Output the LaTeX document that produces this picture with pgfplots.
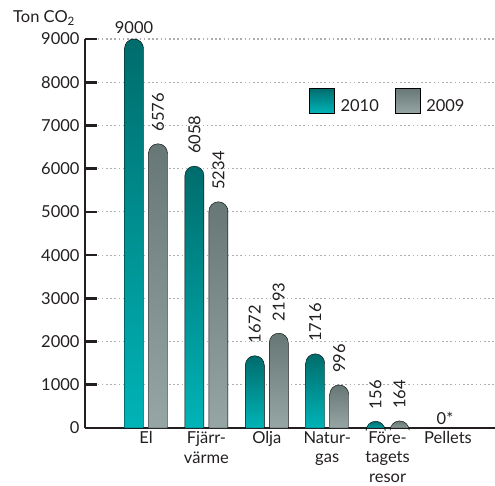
\documentclass[border=0pt]{standalone}
\usepackage{fontspec}
\setmainfont{Lato}
\usepackage{pgfplots}
\usepackage{pgfplotstable}
\pgfplotsset{compat=1.18}

\definecolor{ink}{HTML}{231F20}
\definecolor{tealtop}{RGB}{0,108,108}
\definecolor{tealbot}{RGB}{0,180,183}
\definecolor{graytop}{RGB}{102,119,118}
\definecolor{graybot}{RGB}{150,166,164}
\definecolor{gridgray}{RGB}{172,174,176}

\newcommand\fs{\fontsize{16.5}{19.5}\selectfont}
% length of one data unit on the y axis: 389pt for 9000 t
\newcommand\ppu{0.0432222pt}

% a bar with a rounded top, drawn down from the data point to the zero line;
% 2010 sits 12pt left of the category, 2009 12pt right of it
\pgfdeclareplotmark{tealbar}{%
  \shade[top color=tealtop, bottom color=tealbot]
    (-21.5pt,{-\barval*\ppu}) -- (-21.5pt,-9.5pt)
    arc[start angle=180, end angle=0, radius=9.5pt]
    -- (-2.5pt,{-\barval*\ppu}) -- cycle;}
\pgfdeclareplotmark{graybar}{%
  \shade[top color=graytop, bottom color=graybot]
    (2.5pt,{-\barval*\ppu}) -- (2.5pt,-9.5pt)
    arc[start angle=180, end angle=0, radius=9.5pt]
    -- (21.5pt,{-\barval*\ppu}) -- cycle;}

\pgfplotstableread{
idx v2010 v2009
0   9000  6576
1   6058  5234
2   1672  2193
3   1716  996
4   156   164
5   0     0
}\emissions

\pgfplotsset{
  upright label/.style={point meta=explicit symbolic,
    nodes near coords={\pgfplotspointmeta},
    nodes near coords style={xshift=#1, yshift=5pt, anchor=south,
      inner sep=0pt, font=\fs, color=ink}},
  turned label/.style={point meta=explicit symbolic,
    nodes near coords={\rotatebox{90}{\pgfplotspointmeta}},
    nodes near coords style={xshift=#1, yshift=12pt, anchor=south,
      inner sep=0pt, font=\fs, color=ink}},
}

\begin{document}
\begin{tikzpicture}
\begin{axis}[
  name=ax,
  scale only axis, width=410pt, height=389pt,
  xmin=-1.01, xmax=5.778,
  ymin=0, ymax=9000,
  axis on top,
  axis x line*=bottom, axis y line*=left,
  axis line style={line width=2.6pt, color=ink},
  xtick={0,...,5},
  xticklabels={{El},{Fjärr-\\värme},{Olja},{Natur-\\gas},{Före-\\tagets\\resor},{Pellets}},
  ytick={0,1000,...,9000},
  /pgf/number format/assume math mode=true,
  /pgf/number format/1000 sep={},
  tick align=inside,
  major tick length=12pt,
  tick style={line width=2.6pt, color=ink},
  xtick style={draw=none},
  xticklabel style={font=\fs, align=center, color=ink},
  yticklabel style={font=\fs, color=ink, xshift=-2pt},
  ymajorgrids,
  major grid style={line width=1.1pt, gridgray, dash pattern=on 1.6pt off 2.6pt},
  ylabel={Ton CO\textsubscript{2}},
  ylabel style={rotate=-90, at={(axis description cs:0,1)}, anchor=base west,
    xshift=-72pt, yshift=16pt, font=\fs, color=ink, inner sep=0pt},
  legend style={at={(axis description cs:0.539,0.839)}, anchor=west,
    draw=none, fill=none, font=\fs, text=ink,
    /tikz/every odd column/.append style={column sep=4pt},
    /tikz/every even column/.append style={column sep=14pt}},
  legend columns=-1,
]

% 2010
\addplot[only marks, mark=tealbar,
  restrict x to domain=0:0, forget plot,
  visualization depends on={rawy \as \barval},
  upright label=-12pt]
  table[x=idx, y=v2010, meta=v2010] {\emissions};
\addplot[only marks, mark=tealbar,
  restrict x to domain=1:4, forget plot,
  visualization depends on={rawy \as \barval},
  turned label=-12pt]
  table[x=idx, y=v2010, meta=v2010] {\emissions};
% 2009
\addplot[only marks, mark=graybar,
  restrict x to domain=0:4, forget plot,
  visualization depends on={rawy \as \barval},
  turned label=12pt]
  table[x=idx, y=v2009, meta=v2009] {\emissions};
% Pellets: nothing to draw, only the note
\addplot[only marks, mark=*, mark size=0pt, mark options={draw=none, fill=none},
  restrict x to domain=5:5, forget plot,
  point meta=explicit symbolic, nodes near coords={\pgfplotspointmeta*},
  nodes near coords style={anchor=south, inner sep=0pt, xshift=-3pt, yshift=3pt,
    font=\fs, color=ink}]
  table[x=idx, y=v2010, meta=v2010] {\emissions};

\addlegendimage{legend image code/.code={
  \shade[top color=tealtop, bottom color=tealbot] (0pt,-6.5pt) rectangle (25pt,18.5pt);}}
\addlegendentry{2010}
\addlegendimage{legend image code/.code={
  \shade[top color=graytop, bottom color=graybot] (0pt,-6.5pt) rectangle (25pt,18.5pt);}}
\addlegendentry{2009}
\end{axis}
\pgfresetboundingbox
\path[use as bounding box] ([xshift=-85pt,yshift=-58pt]ax.south west) rectangle ++(495pt,486pt);
\end{tikzpicture}
\end{document}
